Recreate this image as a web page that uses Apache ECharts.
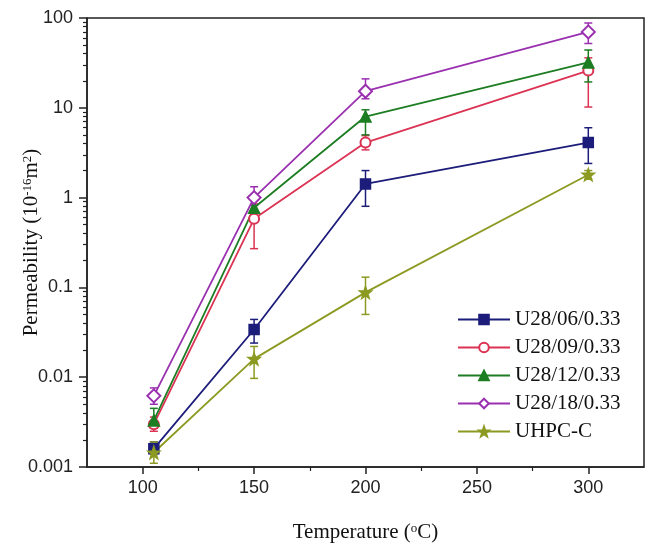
<!DOCTYPE html>
<html>
<head>
<meta charset="utf-8">
<script src="https://cdn.jsdelivr.net/npm/echarts@6/dist/echarts.min.js"></script>
<style>
  html, body { margin: 0; padding: 0; background: #fff; }
  #main { width: 653px; height: 552px; }
</style>
</head>
<body>
<div id="main"></div>
<script>
// temperatures (deg C)
const temps = [105, 150, 200, 300];
const seriesNames = ['U28/06/0.33', 'U28/09/0.33', 'U28/12/0.33', 'U28/18/0.33', 'UHPC-C'];
// permeability, 10^-16 m^2 (mean, lower, upper)
const u06 = [0.0016, 0.034, 1.42, 4.1];
const u06Lo = [0.0014, 0.024, 0.80, 2.4];
const u06Hi = [0.0019, 0.044, 2.0, 6.0];
const u09 = [0.0030, 0.58, 4.1, 26];
const u09Lo = [0.0025, 0.27, 3.4, 10.2];
const u09Hi = [0.0036, 0.85, 4.9, 36];
const u12 = [0.0033, 0.77, 8.0, 32];
const u12Lo = [0.0027, 0.60, 5.0, 19.4];
const u12Hi = [0.0045, 0.95, 9.5, 44];
const u18 = [0.0062, 1.0, 15.3, 70];
const u18Lo = [0.0050, 0.82, 12.6, 52];
const u18Hi = [0.0076, 1.32, 21, 88];
const uhpc = [0.00145, 0.016, 0.088, 1.8];
const uhpcLo = [0.0011, 0.0097, 0.05, 1.6];
const uhpcHi = [0.0019, 0.022, 0.13, 2.0];
// axis ticks
const xMajor = [100, 150, 200, 250, 300];
const xMinor = [125, 175, 225, 275];
const yLabels = ['0.001', '0.01', '0.1', '1', '10', '100'];

const colors = ['#1c1c7a', '#dc3354', '#1d7d22', '#9a30b0', '#8c9a22'];
const starPath = 'path://M0,-10 L2.35,-3.24 L9.51,-3.09 L3.8,1.24 L5.88,8.09 L0,4 L-5.88,8.09 L-3.8,1.24 L-9.51,-3.09 L-2.35,-3.24 Z';
const symbols = ['rect', 'emptyCircle', 'triangle', 'emptyDiamond', starPath];
const symbolSizes = [10, 10, 11, 13, 12];
const means = [u06, u09, u12, u18, uhpc];
const lows = [u06Lo, u09Lo, u12Lo, u18Lo, uhpcLo];
const highs = [u06Hi, u09Hi, u12Hi, u18Hi, uhpcHi];

// minor ticks on the log axis, as log10 values on a hidden linear axis
let yMinorLog = [];
for (let n = -3; n < 2; n++) {
    for (let k = 2; k <= 9; k++) {
        yMinorLog.push(n + Math.log10(k));
    }
}

const serif = 'Liberation Serif';
const sans = 'Liberation Sans';

function errorBarRender(params, api) {
    let x = api.value(0);
    let lo = api.coord([x, api.value(1)]);
    let hi = api.coord([x, api.value(2)]);
    let cap = 4;
    let style = { stroke: api.visual('color'), lineWidth: 1.5 };
    return {
        type: 'group',
        children: [
            { type: 'line', shape: { x1: lo[0], y1: lo[1], x2: hi[0], y2: hi[1] }, style: style },
            { type: 'line', shape: { x1: lo[0] - cap, y1: lo[1], x2: lo[0] + cap, y2: lo[1] }, style: style },
            { type: 'line', shape: { x1: hi[0] - cap, y1: hi[1], x2: hi[0] + cap, y2: hi[1] }, style: style }
        ]
    };
}

let series = [];
for (let i = 0; i < seriesNames.length; i++) {
    series.push({
        name: 'err' + i,
        type: 'custom',
        xAxisIndex: 0,
        yAxisIndex: 0,
        renderItem: errorBarRender,
        itemStyle: { color: colors[i] },
        encode: { x: 0, y: [1, 2] },
        data: temps.map((t, j) => [t, lows[i][j], highs[i][j]]),
        z: 2
    });
}
for (let i = 0; i < seriesNames.length; i++) {
    series.push({
        name: seriesNames[i],
        type: 'line',
        xAxisIndex: 0,
        yAxisIndex: 0,
        symbol: symbols[i],
        symbolSize: symbolSizes[i],
        showAllSymbol: true,
        lineStyle: { color: colors[i], width: 1.8 },
        itemStyle: { color: colors[i], borderColor: colors[i], borderWidth: 1.5 },
        data: temps.map((t, j) => [t, means[i][j]]),
        animation: false,
        z: 3
    });
}

let myChart = echarts.init(document.getElementById('main'));
let option = {
    animation: false,
    color: colors,
    grid: {
        left: 87, right: 9, top: 18, bottom: 85,
        outerBoundsMode: 'none',
        containLabel: false,
        show: true, borderColor: '#222', borderWidth: 1.5
    },
    legend: {
        data: seriesNames,
        orient: 'vertical',
        left: 452,
        top: 304,
        itemWidth: 52,
        itemHeight: 12,
        itemGap: 7,
        textStyle: { fontFamily: serif, fontSize: 21, lineHeight: 21, color: '#111' }
    },
    xAxis: [
        {
            type: 'value',
            min: 75, max: 325,
            position: 'bottom',
            splitLine: { show: false },
            axisLine: { onZero: false, lineStyle: { color: '#222', width: 1.5 } },
            axisTick: { customValues: xMajor, length: 7, lineStyle: { color: '#222', width: 1.5 } },
            axisLabel: { customValues: xMajor, fontFamily: sans, fontSize: 18, color: '#222', margin: 12 },
            name: 'Temperature ({sup|o}C)',
            nameLocation: 'middle',
            nameGap: 55,
            nameMoveOverlap: false,
            nameTextStyle: {
                fontFamily: serif, fontSize: 21, color: '#111',
                rich: { sup: { fontFamily: serif, fontSize: 13, verticalAlign: 'top', lineHeight: 21 } }
            }
        },
        {
            type: 'value',
            min: 75, max: 325,
            position: 'bottom',
            gridIndex: 0,
            splitLine: { show: false },
            axisLine: { show: false, onZero: false },
            axisTick: { customValues: xMinor, length: 4, lineStyle: { color: '#222', width: 1.2 } },
            axisLabel: { show: false }
        }
    ],
    yAxis: [
        {
            type: 'log',
            logBase: 10,
            min: 0.001, max: 100,
            position: 'left',
            splitLine: { show: false },
            axisLine: { show: true, onZero: false, lineStyle: { color: '#222', width: 1.5 } },
            axisTick: { show: true, length: 8, lineStyle: { color: '#222', width: 1.5 } },
            axisLabel: {
                fontFamily: sans, fontSize: 18, color: '#222', margin: 14,
                formatter: function (v) {
                    let idx = Math.round(Math.log10(v)) + 3;
                    return yLabels[idx] || '';
                }
            },
            name: 'Permeability (10{sup|-16}m{sup|2})',
            nameLocation: 'middle',
            nameGap: 45,
            nameMoveOverlap: false,
            nameTextStyle: {
                fontFamily: serif, fontSize: 21, color: '#111',
                rich: { sup: { fontFamily: serif, fontSize: 13, verticalAlign: 'top', lineHeight: 21 } }
            }
        },
        {
            type: 'value',
            min: -3, max: 2,
            position: 'left',
            splitLine: { show: false },
            axisLine: { show: false, onZero: false },
            axisTick: { customValues: yMinorLog, length: 4, lineStyle: { color: '#222', width: 1.2 } },
            axisLabel: { show: false }
        }
    ],
    series: series
};
myChart.setOption(option);
</script>
</body>
</html>
